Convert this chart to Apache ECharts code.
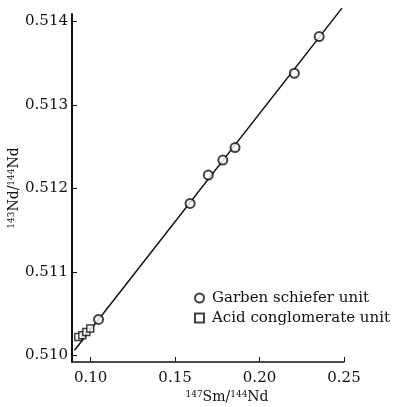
<!DOCTYPE html>
<html><head><meta charset="utf-8">
<script src="https://cdn.jsdelivr.net/npm/echarts@6/dist/echarts.min.js"></script>
<style>html,body{margin:0;padding:0;background:#fff}#c{width:401px;height:407px}</style>
</head><body><div id="c"></div>
<script>
// Garben schiefer unit (circles)
const gsX = [0.1047, 0.1589, 0.1697, 0.1783, 0.1855, 0.2206, 0.2353];
const gsY = [0.51043, 0.51182, 0.51216, 0.51234, 0.51249, 0.51338, 0.51382];
// Acid conglomerate unit (squares)
const acX = [0.0927, 0.0951, 0.0975, 0.0998];
const acY = [0.51022, 0.51024, 0.51028, 0.51032];
// Isochron line end points
const isoX = [0.0905, 0.2488];
const isoY = [0.51006, 0.51416];
const xTicks = [0.10, 0.15, 0.20, 0.25];
const yTicks = [0.510, 0.511, 0.512, 0.513, 0.514];

const font = '"DejaVu Serif","Liberation Serif",serif';
const zip = (a, b) => a.map((v, i) => [v, b[i]]);
const sup = {n: {fontSize: 9, verticalAlign: 'top', padding: [0, 0, 6, 0], fontFamily: font, color: '#111'}};
const chart = echarts.init(document.getElementById('c'));
chart.setOption({
  animation: false,
  backgroundColor: '#fff',
  grid: {left: 72, right: 57, top: 14, bottom: 45, containLabel: false, outerBoundsMode: 'none'},
  xAxis: {
    type: 'value', min: 0.0890, max: 0.25,
    axisLine: {lineStyle: {color: '#111', width: 1.5}},
    axisTick: {inside: true, length: 5, customValues: xTicks, lineStyle: {color: '#111'}},
    axisLabel: {customValues: xTicks, formatter: v => v.toFixed(2), color: '#111', fontFamily: font, fontSize: 15, margin: 9},
    splitLine: {show: false},
    name: '{n|147}Sm/{n|144}Nd', nameLocation: 'middle', nameGap: 28, nameMoveOverlap: false,
    nameTextStyle: {color: '#111', fontFamily: font, fontSize: 14, padding: [0, 0, 0, 38], rich: sup}
  },
  yAxis: {
    type: 'value', min: 0.50992, max: 0.51409,
    axisLine: {lineStyle: {color: '#111', width: 2}},
    axisTick: {inside: true, length: 5, customValues: yTicks, lineStyle: {color: '#111'}},
    axisLabel: {customValues: yTicks, formatter: v => v.toFixed(3), color: '#111', fontFamily: font, fontSize: 15, margin: 4},
    splitLine: {show: false},
    name: '{n|143}Nd/{n|144}Nd', nameLocation: 'middle', nameGap: 50, nameRotate: 90, nameMoveOverlap: false,
    nameTextStyle: {color: '#111', fontFamily: font, fontSize: 14, rich: sup}
  },
  legend: {
    left: 189, top: 284, orient: 'vertical', itemGap: 2, itemWidth: 9, itemHeight: 9,
    textStyle: {fontFamily: font, fontSize: 15, color: '#111', lineHeight: 18, padding: [0, 0, 0, 3]},
    data: ['Garben schiefer unit', 'Acid conglomerate unit']
  },
  series: [
    {type: 'line', data: zip(isoX, isoY), symbol: 'none', clip: false, lineStyle: {color: '#111', width: 1.5}, z: 1, silent: true},
    {name: 'Garben schiefer unit', type: 'scatter', data: zip(gsX, gsY), symbol: 'circle', symbolSize: 9,
      itemStyle: {color: '#fff', borderColor: '#111', borderWidth: 2}, z: 3},
    {name: 'Acid conglomerate unit', type: 'scatter', data: zip(acX, acY), symbol: 'rect', symbolSize: 7,
      itemStyle: {color: '#fff', borderColor: '#111', borderWidth: 1.5}, z: 3}
  ]
});
</script></body></html>
